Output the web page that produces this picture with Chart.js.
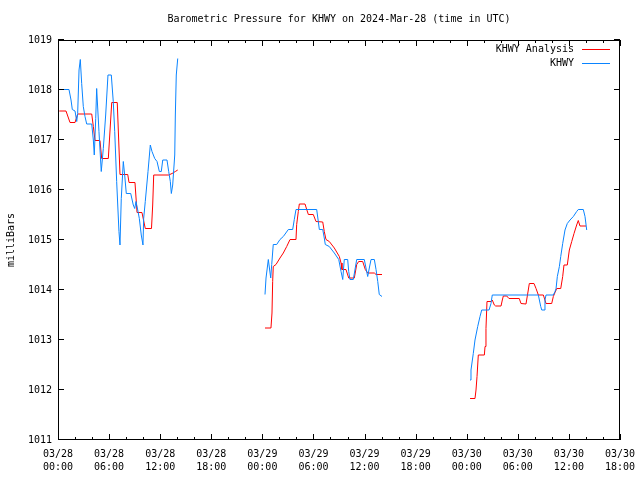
<!DOCTYPE html>
<html>
<head>
<meta charset="utf-8">
<title>Barometric Pressure for KHWY</title>
<script src="https://cdn.jsdelivr.net/npm/chart.js@4.4.1/dist/chart.umd.min.js"></script>
<style>
  html, body { margin: 0; padding: 0; background: #fff; }
</style>
</head>
<body>
<canvas id="pressureChart" width="640" height="480"></canvas>
<script>
// hours since 03/28 00:00 UTC; null breaks the line between reporting gaps
const analysisHours = [
  0.15, 0.94, 1.41, 2.0, 2.31, 3.96, 4.15, 4.35, 4.93, 5.13, 5.91, 6.31, 6.96, 7.28,
  8.19, 8.34, 9.04, 9.28, 9.86, 10.25, 10.98, 11.12, 11.24, 13.0, 13.39, 13.78, 14.06,
  19,
  24.31, 25.01, 25.13, 25.21, 25.28, 25.6, 26.07, 26.46, 26.86, 27.25, 27.95, 28.03,
  28.22, 28.34, 29.01, 29.21, 29.4, 29.98, 30.3, 31.09, 31.27, 31.47, 31.86, 32.45,
  33.04, 33.24, 33.35, 33.82, 34.14, 34.8, 35.08, 35.31, 35.78, 36.09, 36.37, 37.15,
  37.35, 38.05,
  43,
  48.39, 48.97, 49.09, 49.21, 49.36, 50.07, 50.15, 50.26, 50.38, 50.85, 51.0, 51.24,
  51.4, 52.03, 52.18, 52.3, 52.7, 52.96, 54.17, 54.37, 54.96, 55.23, 55.35, 55.9,
  56.14, 56.41, 57.0, 57.31, 57.98, 58.17, 58.37, 58.57, 59.04, 59.27, 59.42, 59.81,
  60.05, 60.33, 60.6, 60.91, 61.1, 61.3, 62.01
];
const analysisMb = [
  1017.58, 1017.58, 1017.35, 1017.35, 1017.52, 1017.52, 1017.27, 1016.99, 1016.99, 1016.63,
  1016.63, 1017.75, 1017.75, 1016.31, 1016.31, 1016.15, 1016.15, 1015.55, 1015.55, 1015.23,
  1015.23, 1015.7, 1016.3, 1016.3, 1016.33, 1016.37, 1016.4,
  null,
  1013.24, 1013.24, 1013.54, 1014.17, 1014.47, 1014.51, 1014.64, 1014.74, 1014.87, 1015.01,
  1015.01, 1015.31, 1015.57, 1015.72, 1015.72, 1015.61, 1015.51, 1015.51, 1015.37, 1015.36,
  1015.17, 1015.01, 1014.97, 1014.84, 1014.67, 1014.54, 1014.41, 1014.41, 1014.24, 1014.24,
  1014.51, 1014.57, 1014.57, 1014.41, 1014.34, 1014.34, 1014.31, 1014.31,
  null,
  1011.83, 1011.83, 1012.0, 1012.27, 1012.7, 1012.7, 1012.87, 1013.23, 1013.77, 1013.77,
  1013.8, 1013.7, 1013.68, 1013.68, 1013.8, 1013.88, 1013.88, 1013.83, 1013.83, 1013.73,
  1013.72, 1014.0, 1014.13, 1014.13, 1014.03, 1013.9, 1013.9, 1013.73, 1013.73, 1013.87,
  1013.95, 1014.03, 1014.03, 1014.27, 1014.5, 1014.5, 1014.8, 1014.97, 1015.13, 1015.3,
  1015.39, 1015.28, 1015.28
];

const obsHours = [
  0.15, 1.29, 1.53, 1.68, 2.0, 2.2, 2.31, 2.47, 2.62, 2.78, 2.97, 3.17, 3.37, 3.96,
  4.15, 4.26, 4.43, 4.54, 4.81, 5.08, 5.32, 5.6, 5.87, 6.26, 6.49, 6.66, 6.89, 7.16,
  7.28, 7.43, 7.67, 7.83, 8.02, 8.54, 8.84, 9.01, 9.16, 9.4, 9.55, 9.78, 9.98, 10.06,
  10.25, 10.57, 10.84, 11.04, 11.36, 11.63, 11.9, 12.13, 12.3, 12.8, 13.0, 13.19,
  13.31, 13.47, 13.71, 13.78, 13.89, 14.06,
  19,
  24.31, 24.43, 24.7, 24.98, 25.1, 25.28, 25.68, 26.07, 26.46, 27.05, 27.56, 27.75,
  27.95, 30.38, 30.57, 30.69, 31.09, 31.27, 31.39, 31.86, 32.45, 32.97, 33.24, 33.44,
  33.62, 34.02, 34.14, 34.29, 34.68, 34.91, 35.08, 35.97, 36.17, 36.37, 36.56, 36.76,
  37.15, 37.35, 37.55, 37.73, 38.05,
  43,
  48.39, 48.5, 48.77, 48.97, 49.29, 49.56, 49.76, 50.62, 50.85, 51.0, 56.41, 56.53,
  56.69, 56.81, 57.08, 57.19, 57.31, 58.17, 58.37, 58.49, 58.64, 58.88, 59.04, 59.27,
  59.54, 59.81, 60.13, 60.52, 60.91, 61.1, 61.69, 61.89, 62.09
];
const obsMb = [
  1018.01, 1018.01, 1017.8, 1017.61, 1017.58, 1017.37, 1017.53, 1018.4, 1018.61, 1018.13,
  1017.67, 1017.47, 1017.32, 1017.32, 1017.0, 1016.7, 1017.43, 1018.03, 1017.17, 1016.37,
  1016.83, 1017.5, 1018.3, 1018.3, 1017.77, 1017.17, 1016.17, 1015.17, 1014.9, 1015.83,
  1016.57, 1016.3, 1015.93, 1015.93, 1015.7, 1015.63, 1015.77, 1015.57, 1015.43, 1015.1,
  1014.9, 1015.43, 1015.77, 1016.37, 1016.9, 1016.77, 1016.63, 1016.57, 1016.37, 1016.37,
  1016.6, 1016.6, 1016.37, 1016.17, 1015.93, 1016.1, 1016.7, 1017.5, 1018.3, 1018.63,
  null,
  1013.91, 1014.24, 1014.61, 1014.24, 1014.51, 1014.91, 1014.91, 1015.01, 1015.07, 1015.21,
  1015.21, 1015.41, 1015.61, 1015.61, 1015.37, 1015.21, 1015.21, 1015.04, 1014.91, 1014.87,
  1014.74, 1014.61, 1014.37, 1014.21, 1014.61, 1014.61, 1014.37, 1014.21, 1014.21, 1014.44,
  1014.61, 1014.61, 1014.44, 1014.27, 1014.44, 1014.61, 1014.61, 1014.41, 1014.17, 1013.91,
  1013.87,
  null,
  1012.2, 1012.4, 1012.73, 1013.0, 1013.27, 1013.47, 1013.6, 1013.6, 1013.73, 1013.9,
  1013.9, 1013.8, 1013.67, 1013.6, 1013.6, 1013.8, 1013.9, 1013.9, 1013.97, 1014.03,
  1014.27, 1014.47, 1014.67, 1014.93, 1015.2, 1015.33, 1015.4, 1015.47, 1015.57, 1015.61,
  1015.61, 1015.47, 1015.2
];

const xTickLabels = [
  ["03/28", "00:00"], ["03/28", "06:00"], ["03/28", "12:00"], ["03/28", "18:00"],
  ["03/29", "00:00"], ["03/29", "06:00"], ["03/29", "12:00"], ["03/29", "18:00"],
  ["03/30", "00:00"], ["03/30", "06:00"], ["03/30", "12:00"], ["03/30", "18:00"]
];
const seriesNames = ["KHWY Analysis", "KHWY"];
const seriesColors = ["#ff0000", "#0a84ff"];
const chartTitle = "Barometric Pressure for KHWY on 2024-Mar-28 (time in UTC)";

const FONT = "'DejaVu Sans Mono', monospace";

const toPoints = (hours, vals) => hours.map((h, i) => ({ x: h, y: vals[i] }));

// gnuplot-style frame: box, inward ticks on all sides, title and legend
const framePlugin = {
  id: "frame",
  afterDraw(chart) {
    const { ctx, chartArea: a, scales } = chart;
    const xs = scales.x, ys = scales.y;
    ctx.save();
    ctx.strokeStyle = "#000";
    ctx.lineWidth = 1;
    ctx.strokeRect(Math.round(a.left) + 0.5, Math.round(a.top) + 0.5,
      Math.round(a.right - a.left) - 1, Math.round(a.bottom - a.top) - 1);

    ctx.beginPath();
    for (let h = 0; h <= 66; h += 2) {
      const px = Math.round(xs.getPixelForValue(h)) + 0.5;
      const len = h % 6 === 0 ? 6 : 3;
      ctx.moveTo(px, a.bottom); ctx.lineTo(px, a.bottom - len);
      ctx.moveTo(px, a.top); ctx.lineTo(px, a.top + len);
    }
    for (let v = 1011; v <= 1019; v++) {
      const py = Math.round(ys.getPixelForValue(v)) - 0.5;
      ctx.moveTo(a.left, py); ctx.lineTo(a.left + 6, py);
      ctx.moveTo(a.right, py); ctx.lineTo(a.right - 6, py);
    }
    ctx.stroke();

    ctx.fillStyle = "#000";
    ctx.font = "10px " + FONT;
    ctx.textBaseline = "middle";
    ctx.textAlign = "center";
    ctx.fillText(chartTitle, (a.left + a.right) / 2, 19);

    ctx.textAlign = "right";
    seriesNames.forEach((name, i) => {
      const y = a.top + 9 + i * 14;
      ctx.fillStyle = "#000";
      ctx.fillText(name, a.right - 46, y);
      ctx.strokeStyle = seriesColors[i];
      ctx.beginPath();
      ctx.moveTo(a.right - 38, Math.round(y) + 0.5);
      ctx.lineTo(a.right - 10, Math.round(y) + 0.5);
      ctx.stroke();
    });
    ctx.restore();
  }
};

new Chart(document.getElementById("pressureChart").getContext("2d"), {
  type: "line",
  data: {
    datasets: [
      {
        label: seriesNames[0],
        data: toPoints(analysisHours, analysisMb),
        borderColor: seriesColors[0],
        borderWidth: 1,
        pointRadius: 0,
        tension: 0,
        spanGaps: false,
        order: 2
      },
      {
        label: seriesNames[1],
        data: toPoints(obsHours, obsMb),
        borderColor: seriesColors[1],
        borderWidth: 1,
        pointRadius: 0,
        tension: 0,
        spanGaps: false,
        order: 1
      }
    ]
  },
  options: {
    responsive: false,
    animation: false,
    layout: { padding: { top: 40, right: 20, bottom: 0, left: 0 } },
    plugins: {
      legend: { display: false },
      title: { display: false },
      tooltip: { enabled: false }
    },
    scales: {
      x: {
        type: "linear",
        min: 0,
        max: 66,
        grid: { display: false, drawTicks: false },
        border: { display: false },
        afterFit: (s) => { s.height = 40; s.paddingLeft = 0; s.paddingRight = 0; },
        ticks: {
          stepSize: 6,
          padding: 8,
          maxRotation: 0,
          autoSkip: false,
          color: "#000",
          font: { family: FONT, size: 10, lineHeight: 1.3 },
          callback: (v) => xTickLabels[Math.round(v / 6)]
        }
      },
      y: {
        min: 1011,
        max: 1019,
        grid: { display: false, drawTicks: false },
        border: { display: false },
        afterFit: (s) => { s.width = 58; s.paddingTop = 0; s.paddingBottom = 0; },
        title: {
          display: true,
          text: "milliBars",
          color: "#000",
          padding: { top: 5, bottom: 0 },
          font: { family: FONT, size: 10 }
        },
        ticks: {
          stepSize: 1,
          padding: 6,
          color: "#000",
          font: { family: FONT, size: 10 },
          callback: (v) => String(v)
        }
      }
    }
  },
  plugins: [framePlugin]
});
</script>
</body>
</html>
